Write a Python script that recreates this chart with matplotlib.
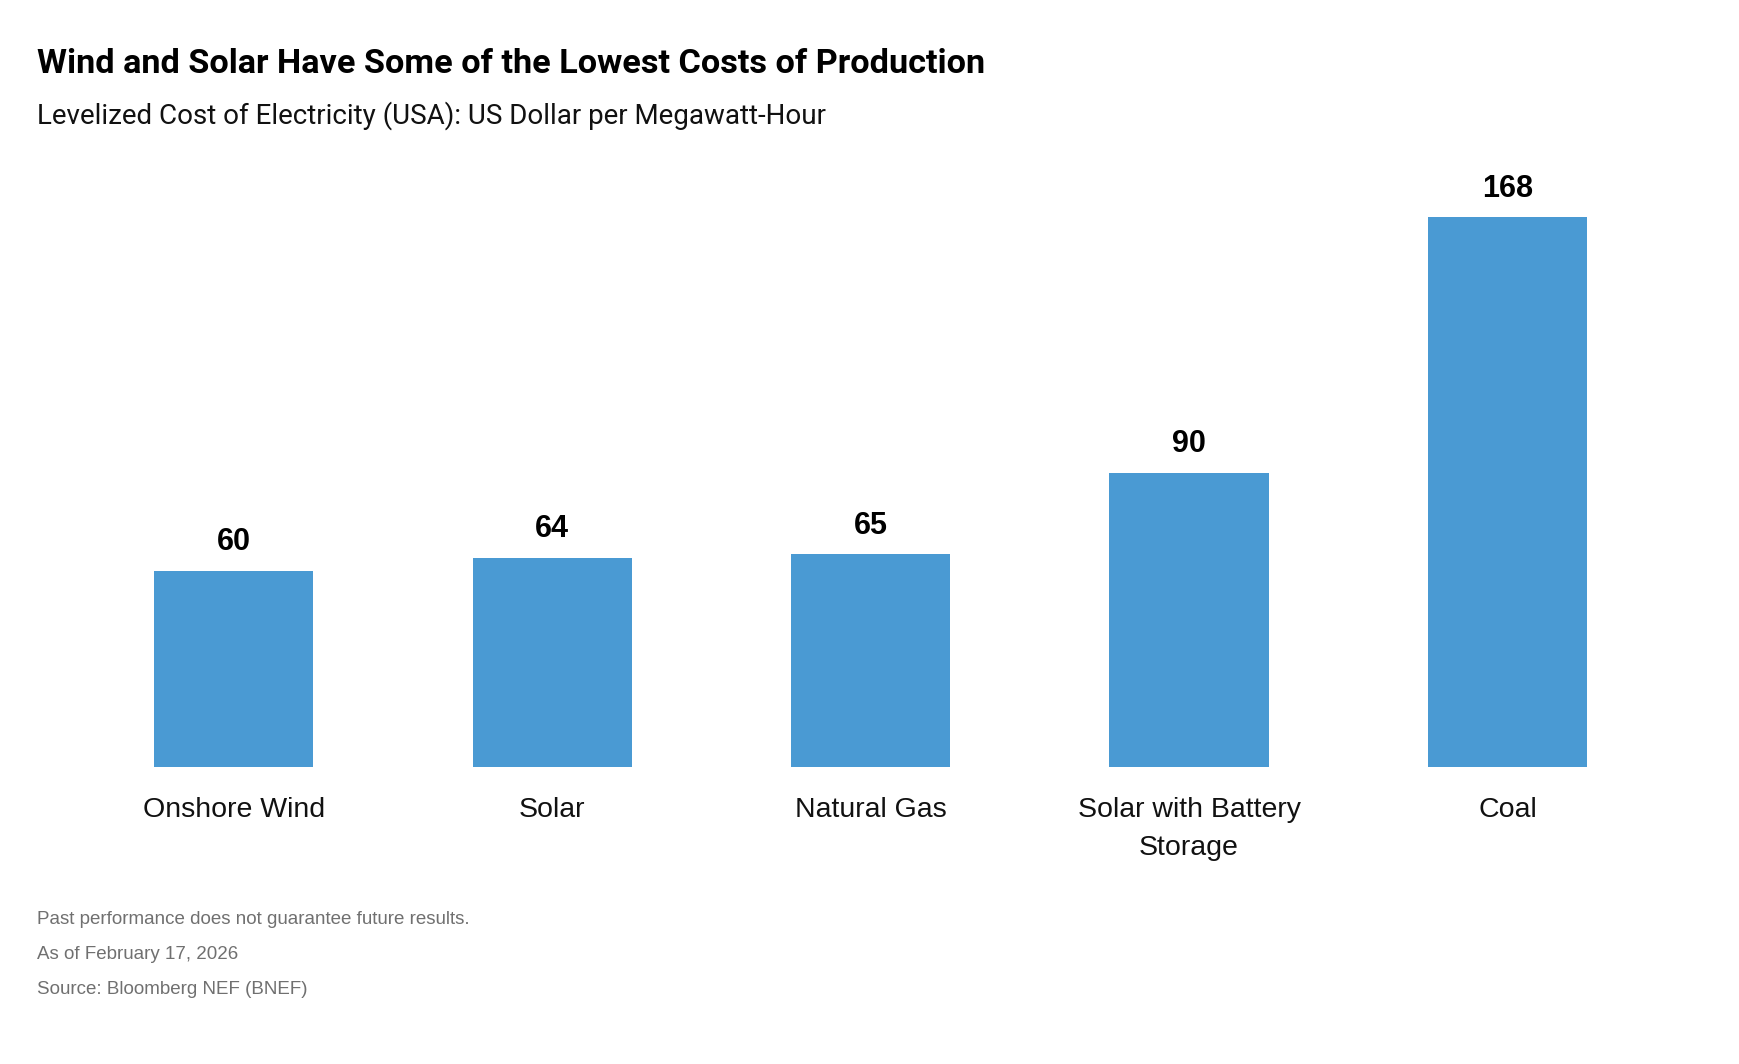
import matplotlib.pyplot as plt

categories = ["Onshore Wind", "Solar", "Natural Gas", "Solar with Battery\nStorage", "Coal"]
costs = [60, 64, 65, 90, 168]

title = "Wind and Solar Have Some of the Lowest Costs of Production"
subtitle = "Levelized Cost of Electricity (USA): US Dollar per Megawatt-Hour"
notes = ["Past performance does not guarantee future results.",
         "As of February 17, 2026",
         "Source: Bloomberg NEF (BNEF)"]

W, H = 1740, 1064
fig = plt.figure(figsize=(W / 100, H / 100), dpi=100)

# axes placed so bar centres and baseline land where the reference has them
ax = fig.add_axes([74.6 / W, (H - 767) / H, 1592 / W, 588.8 / H])
x = range(len(categories))
bars = ax.bar(x, costs, width=0.5, color="#4A9AD3")
ax.set_xlim(-0.5, len(categories) - 0.5)
ax.set_ylim(0, 180)

for b, v in zip(bars, costs):
    ax.annotate(str(v), (b.get_x() + b.get_width() / 2, v), xytext=(0, 15),
                textcoords="offset points", ha="center", va="baseline",
                fontsize=22, fontweight="bold", family="Liberation Sans")

ax.set_yticks([])
ax.set_xticks(list(x))
ax.set_xticklabels(categories, fontsize=20.5, family="Liberation Sans",
                   color="#111111", va="top", linespacing=1.6)
ax.tick_params(axis="x", length=0, pad=21.3)
for s in ax.spines.values():
    s.set_visible(False)

def ftext(px, py, s, **kw):
    fig.text(px / W, 1 - py / H, s, va="baseline", ha="left", **kw)

ftext(37, 73, title, fontsize=24.7, fontweight="bold", family="Roboto", color="black")
ftext(37, 124, subtitle, fontsize=20, family="Roboto", color="#111111")
for i, n in enumerate(notes):
    ftext(37, 924 + 35 * i, n, fontsize=13.5, family="Liberation Sans", color="#707070")

fig.savefig("out.png", dpi=100)
